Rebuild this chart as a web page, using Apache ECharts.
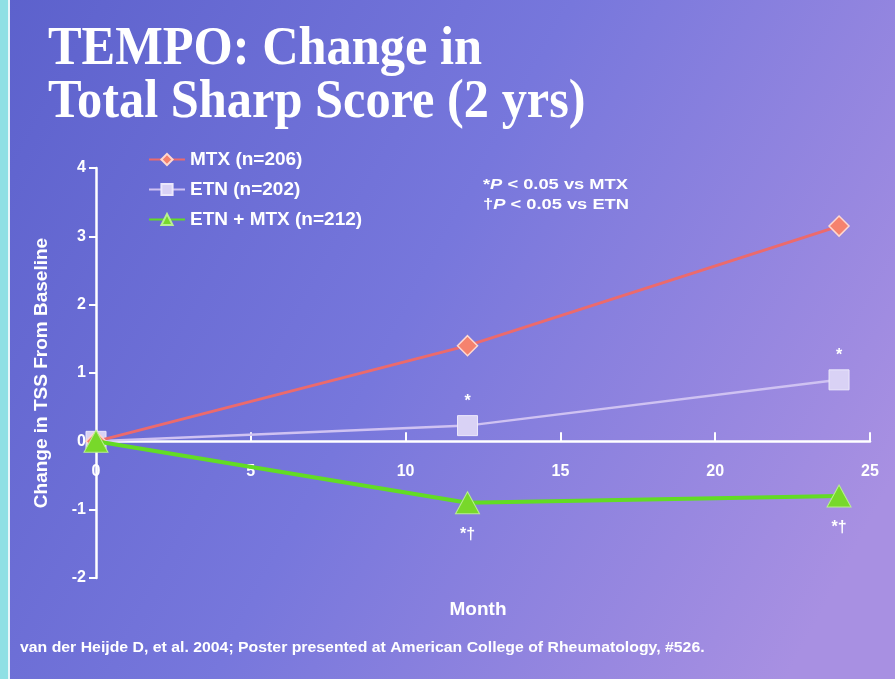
<!DOCTYPE html>
<html>
<head>
<meta charset="utf-8">
<script src="https://cdn.jsdelivr.net/npm/echarts@6/dist/echarts.min.js"></script>
<style>html,body{margin:0;padding:0;}#c{width:895px;height:679px;}</style>
</head>
<body>
<div id="c"></div>
<script>
const months = [0, 12, 24];
const mtx = [0, 1.4, 3.15];
const etn = [0, 0.23, 0.9];
const combo = [0, -0.9, -0.8];
const etnMarks = ['', '*', '*'];
const comboMarks = ['', '*\u2020', '*\u2020'];
const seriesNames = ['MTX (n=206)', 'ETN (n=202)', 'ETN + MTX (n=212)'];
const xTicks = [0, 5, 10, 15, 20, 25];
const yTicks = [-2, -1, 0, 1, 2, 3, 4];

const SANS = '"Liberation Sans", Arial, sans-serif';
const GRID = { left: 96, right: 25, top: 168, bottom: 101 };
const gridH = 679 - GRID.top - GRID.bottom;
const yMin = yTicks[0], yMax = yTicks[yTicks.length - 1];
const xAxisOffset = -((0 - yMin) / (yMax - yMin)) * gridH;

function pts(vals, marks, pos) {
  return months.map((m, i) => {
    const d = { value: [m, vals[i]] };
    if (marks && marks[i]) {
      d.label = { show: true, formatter: marks[i], position: pos, distance: pos === 'top' ? 6 : 12,
        color: '#fff', fontWeight: 'bold', fontSize: 16, fontFamily: SANS };
    }
    return d;
  });
}

const chart = echarts.init(document.getElementById('c'));
chart.setOption({
  animation: false,
  graphic: [
    { type: 'rect', z: -10, silent: true, shape: { x: 0, y: 0, width: 895, height: 679 },
      style: { fill: { type: 'linear', x: 0, y: 0, x2: 1, y2: 0.7, colorStops: [
        { offset: 0, color: '#5c61cc' }, { offset: 0.5, color: '#7777dc' }, { offset: 1, color: '#a890e2' } ] } } },
    { type: 'rect', z: -9, silent: true, shape: { x: 0, y: 0, width: 8, height: 679 },
      style: { fill: '#8fe0e4' } },
    { type: 'rect', z: -9, silent: true, shape: { x: 8, y: 0, width: 2, height: 679 },
      style: { fill: '#e8f6fa' } },
    { type: 'text', x: 48, y: 23, scaleX: 0.9, scaleY: 0.97, originX: 0, originY: 0,
      style: { text: 'TEMPO: Change in\nTotal Sharp Score (2 yrs)', fill: '#ffffff',
        font: 'bold 56px "Liberation Serif", "Times New Roman", serif', lineHeight: 55,
        textVerticalAlign: 'top',
        shadowColor: 'rgba(20,15,60,0.85)', shadowOffsetX: 2, shadowOffsetY: 3, shadowBlur: 2 } },
    { type: 'text', x: 483, y: 175, scaleX: 1.22, originX: 0, originY: 0,
      style: { text: '{a|*}{b|P}{a| < 0.05 vs MTX}\n{a|\u2020}{b|P}{a| < 0.05 vs ETN}', fill: '#fff',
        rich: {
          a: { fontFamily: SANS, fontWeight: 'bold', fontSize: 15, color: '#fff', lineHeight: 20 },
          b: { fontFamily: SANS, fontWeight: 'bold', fontStyle: 'italic', fontSize: 15, color: '#fff', lineHeight: 20 }
        } } },
    { type: 'text', x: 478, y: 610,
      style: { text: 'Month', fill: '#fff', font: 'bold 19px ' + SANS, textAlign: 'center', textVerticalAlign: 'middle' } },
    { type: 'text', x: 20, y: 648, scaleX: 1.13, originX: 0, originY: 0,
      style: { text: 'van der Heijde D, et al. 2004; Poster presented at American College of Rheumatology, #526.',
        fill: '#fff', font: 'bold 14px ' + SANS, textVerticalAlign: 'middle' } }
  ],
  legend: {
    orient: 'vertical', left: 143, top: 145, itemWidth: 36, itemHeight: 14, itemGap: 11,
    data: seriesNames,
    textStyle: { color: '#fff', fontWeight: 'bold', fontSize: 19, fontFamily: SANS }
  },
  grid: { left: GRID.left, right: GRID.right, top: GRID.top, bottom: GRID.bottom, containLabel: false },
  xAxis: {
    type: 'value', min: xTicks[0], max: xTicks[xTicks.length - 1], interval: 5,
    position: 'bottom', offset: xAxisOffset,
    axisLine: { onZero: false, lineStyle: { color: '#fff', width: 2.5 } },
    axisTick: { inside: true, length: 9, lineStyle: { color: '#fff', width: 2 } },
    axisLabel: { color: '#fff', fontWeight: 'bold', fontSize: 16, fontFamily: SANS, margin: 22 },
    splitLine: { show: false }
  },
  yAxis: {
    type: 'value', min: yMin, max: yMax, interval: 1,
    name: 'Change in TSS From Baseline', nameLocation: 'middle', nameGap: 45, nameRotate: 90,
    nameTextStyle: { color: '#fff', fontWeight: 'bold', fontSize: 19, fontFamily: SANS },
    axisLine: { show: true, onZero: false, lineStyle: { color: '#fff', width: 2.5 } },
    axisTick: { show: true, inside: false, length: 7, lineStyle: { color: '#fff', width: 2 } },
    axisLabel: { color: '#fff', fontWeight: 'bold', fontSize: 16, fontFamily: SANS, margin: 10 },
    splitLine: { show: false }
  },
  series: [
    { name: seriesNames[0], type: 'line', data: pts(mtx), symbol: 'diamond', symbolSize: 20,
      lineStyle: { color: '#ec6a6c', width: 3 },
      itemStyle: { color: '#f5826e', borderColor: '#ffd8d0', borderWidth: 1.5 }, z: 3 },
    { name: seriesNames[1], type: 'line', data: pts(etn, etnMarks, 'top'), symbol: 'rect', symbolSize: 20,
      lineStyle: { color: '#cfc2f2', width: 2.5 },
      itemStyle: { color: '#d9d2f5', borderColor: '#ece8fb', borderWidth: 1 }, z: 2 },
    { name: seriesNames[2], type: 'line', data: pts(combo, comboMarks, 'bottom'), symbol: 'triangle', symbolSize: [24, 22],
      lineStyle: { color: '#62dc24', width: 4 },
      itemStyle: { color: '#78d82a', borderColor: '#b8f090', borderWidth: 1 }, z: 4 }
  ]
});
</script>
</body>
</html>
